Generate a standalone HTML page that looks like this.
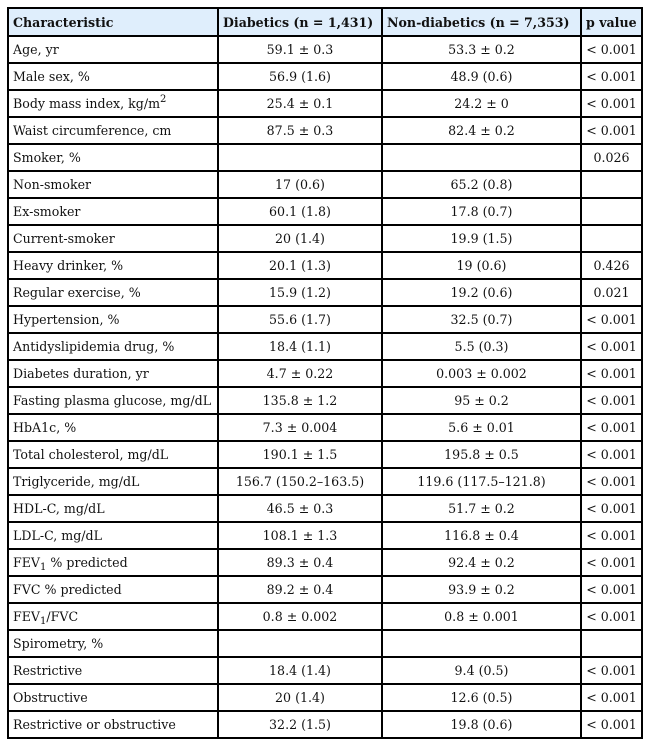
<!DOCTYPE html>
<html><head><meta charset="utf-8"><style>
html,body{margin:0;padding:0;background:#fff;width:650px;height:747px;overflow:hidden}
table{position:absolute;left:7px;top:7px;border-collapse:collapse;font-family:"DejaVu Serif","Liberation Serif",serif;font-size:12.6px;color:#111;table-layout:fixed;width:634px}
td,th{border:2px solid #000;padding:0 4px;height:25px;white-space:nowrap;overflow:hidden}
th{background:#dfeefc;text-align:left;font-weight:bold;height:26px}
td.c{text-align:center}
sup{font-size:10px;vertical-align:6px;line-height:0}
sub{font-size:10px;vertical-align:-3px;line-height:0}
</style></head><body>
<table>
<colgroup><col style="width:210px"><col style="width:164px"><col style="width:199px"><col style="width:61px"></colgroup>
<tr><th>Characteristic</th><th>Diabetics (n = 1,431)</th><th>Non-diabetics (n = 7,353)</th><th>p value</th></tr>
<tr><td>Age, yr</td><td class="c">59.1 ± 0.3</td><td class="c">53.3 ± 0.2</td><td class="c">&lt; 0.001</td></tr>
<tr><td>Male sex, %</td><td class="c">56.9 (1.6)</td><td class="c">48.9 (0.6)</td><td class="c">&lt; 0.001</td></tr>
<tr><td>Body mass index, kg/m<sup>2</sup></td><td class="c">25.4 ± 0.1</td><td class="c">24.2 ± 0</td><td class="c">&lt; 0.001</td></tr>
<tr><td>Waist circumference, cm</td><td class="c">87.5 ± 0.3</td><td class="c">82.4 ± 0.2</td><td class="c">&lt; 0.001</td></tr>
<tr><td>Smoker, %</td><td></td><td></td><td class="c">0.026</td></tr>
<tr><td>Non-smoker</td><td class="c">17 (0.6)</td><td class="c">65.2 (0.8)</td><td></td></tr>
<tr><td>Ex-smoker</td><td class="c">60.1 (1.8)</td><td class="c">17.8 (0.7)</td><td></td></tr>
<tr><td>Current-smoker</td><td class="c">20 (1.4)</td><td class="c">19.9 (1.5)</td><td></td></tr>
<tr><td>Heavy drinker, %</td><td class="c">20.1 (1.3)</td><td class="c">19 (0.6)</td><td class="c">0.426</td></tr>
<tr><td>Regular exercise, %</td><td class="c">15.9 (1.2)</td><td class="c">19.2 (0.6)</td><td class="c">0.021</td></tr>
<tr><td>Hypertension, %</td><td class="c">55.6 (1.7)</td><td class="c">32.5 (0.7)</td><td class="c">&lt; 0.001</td></tr>
<tr><td>Antidyslipidemia drug, %</td><td class="c">18.4 (1.1)</td><td class="c">5.5 (0.3)</td><td class="c">&lt; 0.001</td></tr>
<tr><td>Diabetes duration, yr</td><td class="c">4.7 ± 0.22</td><td class="c">0.003 ± 0.002</td><td class="c">&lt; 0.001</td></tr>
<tr><td>Fasting plasma glucose, mg/dL</td><td class="c">135.8 ± 1.2</td><td class="c">95 ± 0.2</td><td class="c">&lt; 0.001</td></tr>
<tr><td>HbA1c, %</td><td class="c">7.3 ± 0.004</td><td class="c">5.6 ± 0.01</td><td class="c">&lt; 0.001</td></tr>
<tr><td>Total cholesterol, mg/dL</td><td class="c">190.1 ± 1.5</td><td class="c">195.8 ± 0.5</td><td class="c">&lt; 0.001</td></tr>
<tr><td>Triglyceride, mg/dL</td><td class="c">156.7 (150.2–163.5)</td><td class="c">119.6 (117.5–121.8)</td><td class="c">&lt; 0.001</td></tr>
<tr><td>HDL-C, mg/dL</td><td class="c">46.5 ± 0.3</td><td class="c">51.7 ± 0.2</td><td class="c">&lt; 0.001</td></tr>
<tr><td>LDL-C, mg/dL</td><td class="c">108.1 ± 1.3</td><td class="c">116.8 ± 0.4</td><td class="c">&lt; 0.001</td></tr>
<tr><td>FEV<sub>1</sub> % predicted</td><td class="c">89.3 ± 0.4</td><td class="c">92.4 ± 0.2</td><td class="c">&lt; 0.001</td></tr>
<tr><td>FVC % predicted</td><td class="c">89.2 ± 0.4</td><td class="c">93.9 ± 0.2</td><td class="c">&lt; 0.001</td></tr>
<tr><td>FEV<sub>1</sub>/FVC</td><td class="c">0.8 ± 0.002</td><td class="c">0.8 ± 0.001</td><td class="c">&lt; 0.001</td></tr>
<tr><td>Spirometry, %</td><td></td><td></td><td></td></tr>
<tr><td>Restrictive</td><td class="c">18.4 (1.4)</td><td class="c">9.4 (0.5)</td><td class="c">&lt; 0.001</td></tr>
<tr><td>Obstructive</td><td class="c">20 (1.4)</td><td class="c">12.6 (0.5)</td><td class="c">&lt; 0.001</td></tr>
<tr><td>Restrictive or obstructive</td><td class="c">32.2 (1.5)</td><td class="c">19.8 (0.6)</td><td class="c">&lt; 0.001</td></tr>
</table>
</body></html>
